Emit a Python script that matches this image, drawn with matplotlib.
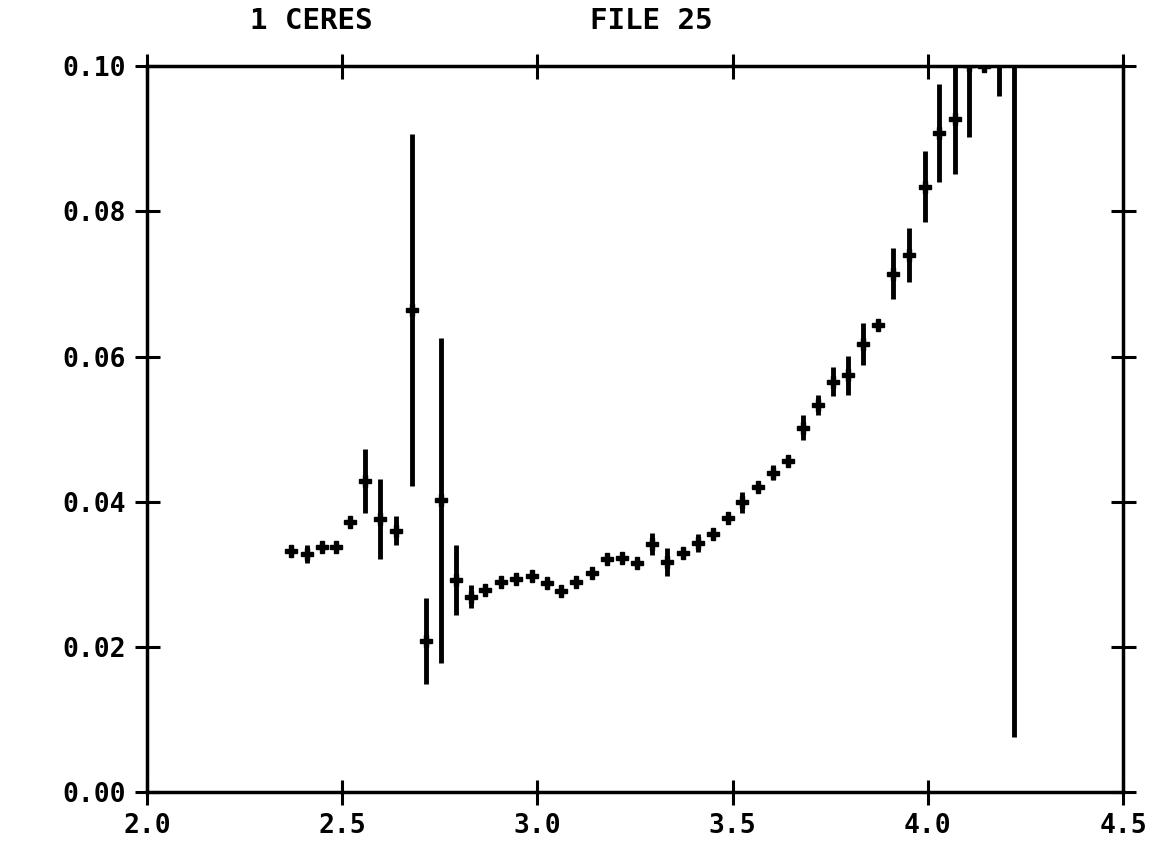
import numpy as np
import matplotlib.pyplot as plt

# reflectance spectrum, 1 Ceres, file 25
wavelength = [2.368, 2.409, 2.447, 2.483, 2.520, 2.558, 2.598, 2.639, 2.678, 2.714,
              2.754, 2.791, 2.829, 2.866, 2.906, 2.945, 2.985, 3.025, 3.060, 3.100,
              3.139, 3.177, 3.216, 3.254, 3.293, 3.332, 3.372, 3.412, 3.450, 3.487,
              3.525, 3.564, 3.604, 3.642, 3.679, 3.719, 3.756, 3.795, 3.834, 3.873,
              3.911, 3.951, 3.992, 4.029, 4.069, 4.105, 4.143, 4.182, 4.220]
flux = [0.0332, 0.0328, 0.0337, 0.0337, 0.0372, 0.0429, 0.0376, 0.0360, 0.0664, 0.0208,
        0.0402, 0.0292, 0.0269, 0.0279, 0.0289, 0.0293, 0.0297, 0.0288, 0.0277, 0.0290,
        0.0302, 0.0321, 0.0323, 0.0316, 0.0342, 0.0317, 0.0329, 0.0343, 0.0356, 0.0378,
        0.0399, 0.0420, 0.0440, 0.0456, 0.0502, 0.0533, 0.0565, 0.0574, 0.0617, 0.0643,
        0.0714, 0.0740, 0.0834, 0.0908, 0.0927, 0.1002, 0.1000, 0.1015, 0.1040]
sigma = [0.0, 0.0012, 0.0, 0.0, 0.0, 0.0044, 0.0055, 0.0020, 0.0242, 0.0059,
         0.0224, 0.0048, 0.0016, 0.0, 0.0, 0.0, 0.0, 0.0, 0.0, 0.0,
         0.0, 0.0, 0.0, 0.0, 0.0015, 0.0019, 0.0, 0.0013, 0.0, 0.0,
         0.0015, 0.0, 0.0010, 0.0, 0.0017, 0.0014, 0.0020, 0.0027, 0.0029, 0.0,
         0.0035, 0.0037, 0.0049, 0.0067, 0.0075, 0.0099, 0.0008, 0.0056, 0.0964]

x_ticks = [2.0, 2.5, 3.0, 3.5, 4.0, 4.5]
y_ticks = [0.00, 0.02, 0.04, 0.06, 0.08, 0.10]

font = {'family': 'DejaVu Sans Mono', 'weight': 'bold'}

fig = plt.figure(figsize=(11.76, 8.47), dpi=100)
ax = fig.add_axes([0.125, 0.0649, 0.830, 0.857])

ax.errorbar(wavelength, flux, yerr=sigma, fmt='P', ms=8, color='black',
            ecolor='black', elinewidth=3.5, capsize=0)

ax.set_xlim(2.0, 4.5)
ax.set_ylim(0.0, 0.10)
ax.set_xticks(x_ticks)
ax.set_yticks(y_ticks)
ax.set_xticklabels(['%.1f' % v for v in x_ticks], fontsize=19, **font)
ax.set_yticklabels(['%.2f' % v for v in y_ticks], fontsize=19, **font)
ax.tick_params(direction='inout', length=18, width=2.2, top=True, right=True,
               pad=6)
for s in ax.spines.values():
    s.set_linewidth(2.5)

fig.text(250 / 1176, 0.975, '1 CERES', fontsize=21, va='center', ha='left', **font)
fig.text(590 / 1176, 0.975, 'FILE 25', fontsize=21, va='center', ha='left', **font)

fig.savefig('out.png', dpi=100)
